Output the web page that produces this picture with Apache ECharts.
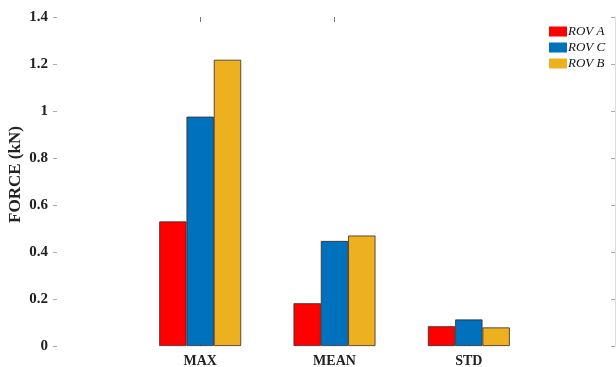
<!DOCTYPE html>
<html>
<head>
<meta charset="utf-8">
<script src="https://cdn.jsdelivr.net/npm/echarts@6/dist/echarts.min.js"></script>
<style>
  html, body { margin: 0; padding: 0; background: #fff; }
  #chart { width: 616px; height: 367px; }
</style>
</head>
<body>
<div id="chart"></div>
<script>
// Force statistics per vehicle
const categories = ['MAX', 'MEAN', 'STD'];
const seriesNames = ['ROV A', 'ROV C', 'ROV B'];
const rovA = [0.53, 0.182, 0.084];
const rovC = [0.976, 0.447, 0.113];
const rovB = [1.218, 0.470, 0.079];
const yTicks = [0, 0.2, 0.4, 0.6, 0.8, 1, 1.2, 1.4];

const colors = ['#FF0000', '#0072BD', '#EDB120'];
const values = [rovA, rovC, rovB];
const serif = '"Liberation Serif", "DejaVu Serif", serif';

const chart = echarts.init(document.getElementById('chart'));

const option = {
  animation: false,
  backgroundColor: '#fff',
  grid: [
    // bar area
    { left: 133, right: 80, top: 17, bottom: 21, outerBoundsMode: 'none', containLabel: false },
    // outer frame carrying the value axes
    { left: 53, right: 1, top: 17, bottom: 21, outerBoundsMode: 'none', containLabel: false }
  ],
  xAxis: [
    {
      type: 'category', gridIndex: 0, data: categories, position: 'bottom',
      axisLine: { show: false },
      axisTick: { show: true, inside: true, alignWithLabel: true, length: 5,
                  lineStyle: { color: '#333', width: 1 } },
      axisLabel: { margin: 8, fontFamily: serif, fontWeight: 'bold', fontSize: 14, color: '#222' }
    },
    {
      type: 'category', gridIndex: 0, data: categories, position: 'top',
      axisLine: { show: false },
      axisTick: { show: true, inside: true, alignWithLabel: true, length: 5,
                  interval: (i) => i < 2,
                  lineStyle: { color: '#777', width: 1 } },
      axisLabel: { show: false }
    },
    { type: 'value', gridIndex: 1, min: 0, max: 1, show: false }
  ],
  yAxis: [
    { type: 'value', gridIndex: 0, min: 0, max: 1.4, interval: 0.2, show: false },
    {
      type: 'value', gridIndex: 1, min: 0, max: 1.4, interval: 0.2, position: 'left',
      name: 'FORCE (kN)', nameLocation: 'middle', nameGap: 29, nameRotate: 90,
      nameMoveOverlap: false,
      nameTextStyle: { fontFamily: serif, fontWeight: 'bold', fontSize: 17, color: '#222',
                       padding: [0, 0, 0, 14] },
      axisLine: { show: false },
      splitLine: { show: false },
      axisTick: { show: true, inside: true, length: 4, lineStyle: { color: '#aaa' } },
      axisLabel: {
        margin: 5, fontFamily: serif, fontWeight: 'bold', fontSize: 15, color: '#222',
        formatter: (v) => String(+v.toFixed(1))
      }
    },
    {
      type: 'value', gridIndex: 1, min: 0, max: 1.4, interval: 0.2, position: 'right',
      axisLine: { show: true, lineStyle: { color: '#ddd' } },
      splitLine: { show: false },
      axisTick: { show: true, inside: true, length: 4, lineStyle: { color: '#aaa' } },
      axisLabel: { show: false }
    }
  ],
  legend: {
    orient: 'vertical', left: 547, top: 23,
    itemWidth: 18, itemHeight: 10, itemGap: 3,
    backgroundColor: '#fff',
    padding: [2, 2, 2, 2],
    textStyle: { fontFamily: serif, fontStyle: 'italic', fontSize: 13, color: '#111', padding: [0, 0, 0, -4] },
    data: seriesNames.map((n, i) => ({ name: n, icon: 'rect', itemStyle: { color: colors[i], borderWidth: 0 } }))
  },
  series: seriesNames.map((name, i) => ({
    name: name,
    type: 'bar',
    xAxisIndex: 0, yAxisIndex: 0,
    data: values[i],
    barGap: '0%',
    barCategoryGap: '39%',
    itemStyle: { color: colors[i], borderColor: '#3a2626', borderWidth: 0.8 },
    z: 3
  }))
};

chart.setOption(option);
</script>
</body>
</html>
